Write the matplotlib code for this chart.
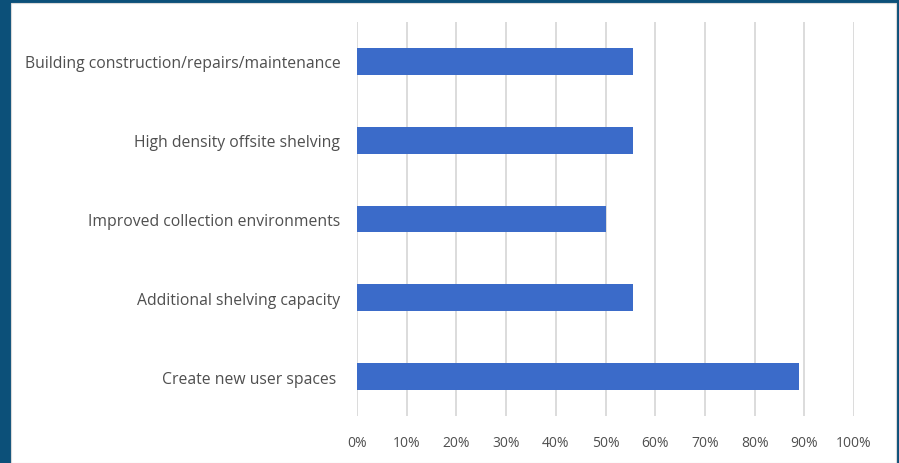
import matplotlib as mpl
mpl.use('Agg')
import matplotlib.pyplot as plt
from matplotlib.patches import Rectangle
from matplotlib.ticker import PercentFormatter

categories = ['Building construction/repairs/maintenance',
              'High density offsite shelving',
              'Improved collection environments',
              'Additional shelving capacity',
              'Create new user spaces ']
shares = [55.5, 55.5, 50, 55.5, 89]
x_ticks = [0, 10, 20, 30, 40, 50, 60, 70, 80, 90, 100]

W, H = 899, 464
fig = plt.figure(figsize=(W / 100, H / 100), dpi=100, facecolor='#0c5079')

# white panel inside the dark blue frame
fig.patches.append(Rectangle((11 / W, 0), (W - 11 - 3) / W, (H - 4) / H,
                             transform=fig.transFigure, facecolor='white',
                             edgecolor='#d9d9d9', linewidth=0.8, zorder=-10))

ax = fig.add_axes([357 / W, (H - 417) / H, 497 / W, (417 - 23) / H])
ax.set_facecolor('white')

ypos = list(range(len(categories)))[::-1]
ax.barh(ypos, shares, height=0.34, color='#3b6bc9', zorder=3)

ax.set_xlim(0, 100)
ax.set_ylim(-0.5, 4.5)
ax.set_xticks(x_ticks)
ax.xaxis.set_major_formatter(PercentFormatter(decimals=0))
ax.set_yticks(ypos)
ax.set_yticklabels(categories)

ax.grid(axis='x', color='#d9d9d9', linewidth=1.3, zorder=0)
for s in ax.spines.values():
    s.set_visible(False)
ax.tick_params(axis='both', length=0, labelcolor='#4f4f4f')
ax.tick_params(axis='y', pad=12, labelsize=11.3)
ax.tick_params(axis='x', pad=14, labelsize=10)
for lbl in ax.get_xticklabels() + ax.get_yticklabels():
    lbl.set_fontfamily('Open Sans')

fig.savefig('out.png', dpi=100, facecolor=fig.get_facecolor())
